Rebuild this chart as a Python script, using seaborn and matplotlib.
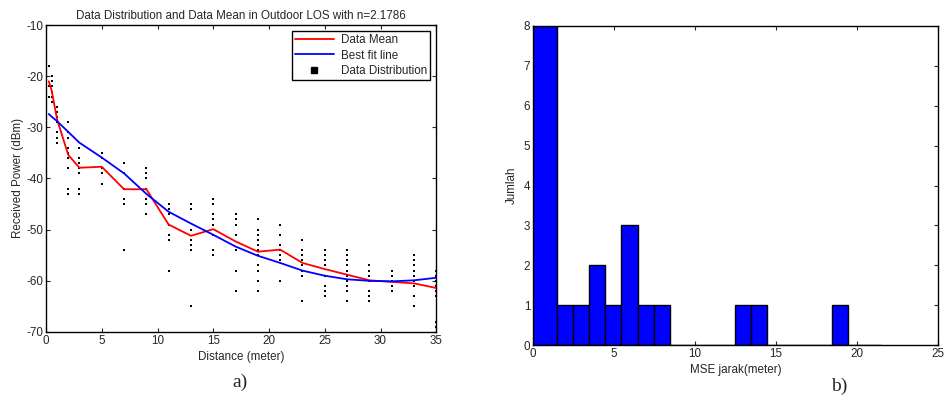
#!/usr/bin/env python
# coding: utf-8

import numpy as np
import pandas as pd
import seaborn as sns
import matplotlib.pyplot as plt
from matplotlib.lines import Line2D

##########
# Data   #
##########

# measurement distances (meter)
distances = [0.25, 0.5, 1, 2, 3, 5, 7, 9, 11, 13, 15, 17, 19, 21, 23, 25, 27, 29, 31, 33, 35]

# received power samples (dBm) per distance
dot_values = [
    [-18, -22, -24],
    [-20, -21, -22, -23, -24, -25],
    [-26, -27, -28, -29, -31, -32, -33],
    [-29, -31, -32, -34, -35, -36, -38, -42, -43],
    [-34, -36, -37, -38, -39, -42, -43],
    [-35, -36, -38, -39, -41],
    [-37, -39, -42, -44, -45, -54],
    [-38, -39, -40, -42, -44, -45, -47],
    [-45, -46, -47, -49, -51, -52, -58],
    [-45, -46, -50, -52, -53, -54, -65],
    [-44, -45, -47, -48, -49, -51, -54, -55],
    [-47, -48, -49, -51, -54, -58, -62],
    [-48, -50, -51, -52, -53, -54, -55, -57, -58, -60, -62],
    [-49, -51, -53, -54, -55, -56, -60],
    [-52, -54, -55, -56, -57, -58, -59, -64],
    [-54, -55, -56, -57, -59, -61, -62, -63],
    [-54, -55, -56, -57, -58, -59, -60, -61, -62, -64],
    [-57, -58, -59, -60, -62, -63, -64],
    [-58, -59, -60, -61, -62],
    [-55, -56, -57, -58, -59, -60, -61, -63, -65],
    [-58, -59, -60, -61, -62, -63, -68, -69],
]

mean_power = [-21, -22.7, -28.5, -35.4, -37.9, -37.7, -42.1, -42.1, -49, -51.2, -49.9,
              -52.3, -54.3, -53.9, -56.5, -57.7, -58.8, -59.9, -60.2, -60.5, -61.4]

fit_power = [-27.4, -27.9, -28.8, -30.9, -33.0, -35.9, -39.0, -43.0, -46.5, -48.8, -51.0,
             -53.3, -55.1, -56.5, -58.0, -59.0, -59.7, -60.0, -60.1, -59.9, -59.4]

# histogram of MSE jarak
mse_bin_mid = [0.7, 1.95, 2.95, 3.95, 4.95, 5.95, 6.95, 7.95, 12.95, 13.95, 18.95]
mse_counts = [8, 1, 1, 2, 1, 3, 1, 1, 1, 1, 1]

#########
# Plot  #
#########

sns.set_style("ticks")
plt.rcParams['font.family'] = ['Liberation Sans', 'DejaVu Sans']
plt.rcParams['axes.unicode_minus'] = False
plt.rcParams['xtick.direction'] = 'in'
plt.rcParams['ytick.direction'] = 'in'

fs = 8.4

fig = plt.figure(figsize=(9.52, 4.0), dpi=100)
ax1 = fig.add_axes([0.0483, 0.17, 0.41, 0.7675])
ax2 = fig.add_axes([0.56, 0.1375, 0.4255, 0.7975])

# scatter of raw samples
dotsDF = pd.DataFrame({
    'dist': np.repeat(distances, [len(v) for v in dot_values]),
    'power': np.concatenate(dot_values),
})
sns.scatterplot(data=dotsDF, x='dist', y='power', marker='s', s=3, color='black',
                linewidth=0, ax=ax1, zorder=2, clip_on=False)
sns.lineplot(x=distances, y=mean_power, color='red', linewidth=1.3, ax=ax1, zorder=3)
sns.lineplot(x=distances, y=fit_power, color='blue', linewidth=1.3, ax=ax1, zorder=3)

ax1.set_xlim(0, 35)
ax1.set_ylim(-70, -10)
ax1.set_xticks(range(0, 36, 5))
ax1.set_yticks(range(-70, -9, 10))
ax1.set_title('Data Distribution and Data Mean in Outdoor LOS with n=2.1786', fontsize=fs, pad=4)
ax1.set_xlabel('Distance (meter)', fontsize=fs, labelpad=3)
ax1.set_ylabel('Received Power (dBm)', fontsize=fs, labelpad=2)

handles = [Line2D([], [], color='red', lw=1.3),
           Line2D([], [], color='blue', lw=1.3),
           Line2D([], [], color='black', marker='s', ms=5, lw=0)]
leg = ax1.legend(handles, ['Data Mean', 'Best fit line', 'Data Distribution'],
                 loc='upper right', bbox_to_anchor=(0.985, 0.98), borderaxespad=0,
                 fontsize=fs, frameon=True, fancybox=False, framealpha=1,
                 handlelength=3.4, labelspacing=0.3, borderpad=0.25, handletextpad=0.6)
leg.get_frame().set_edgecolor('black')
leg.get_frame().set_linewidth(1.0)

# histogram
histDF = pd.DataFrame({'mse': mse_bin_mid, 'count': mse_counts})
edges = [0.0] + [1.45 + i for i in range(21)]
sns.histplot(data=histDF, x='mse', weights='count', bins=edges, color='#0000ff', alpha=1,
             edgecolor='black', linewidth=1.0, ax=ax2)
ax2.set_xlim(0, 25)
ax2.set_ylim(0, 8)
ax2.set_xticks(range(0, 26, 5))
ax2.set_yticks(range(0, 9))
ax2.set_xlabel('MSE jarak(meter)', fontsize=fs, labelpad=3)
ax2.set_ylabel('Jumlah', fontsize=fs, labelpad=4)

for ax in (ax1, ax2):
    ax.tick_params(labelsize=fs, length=3, width=0.8, top=True, right=True, pad=2)
    for sp in ax.spines.values():
        sp.set_visible(True)
        sp.set_linewidth(1.0)
        sp.set_color('black')

fig.text(0.252, 0.045, 'a)', fontsize=14, family='Liberation Serif', ha='center', va='center')
fig.text(0.882, 0.035, 'b)', fontsize=14, family='Liberation Serif', ha='center', va='center')

fig.savefig('out.png', dpi=100)
